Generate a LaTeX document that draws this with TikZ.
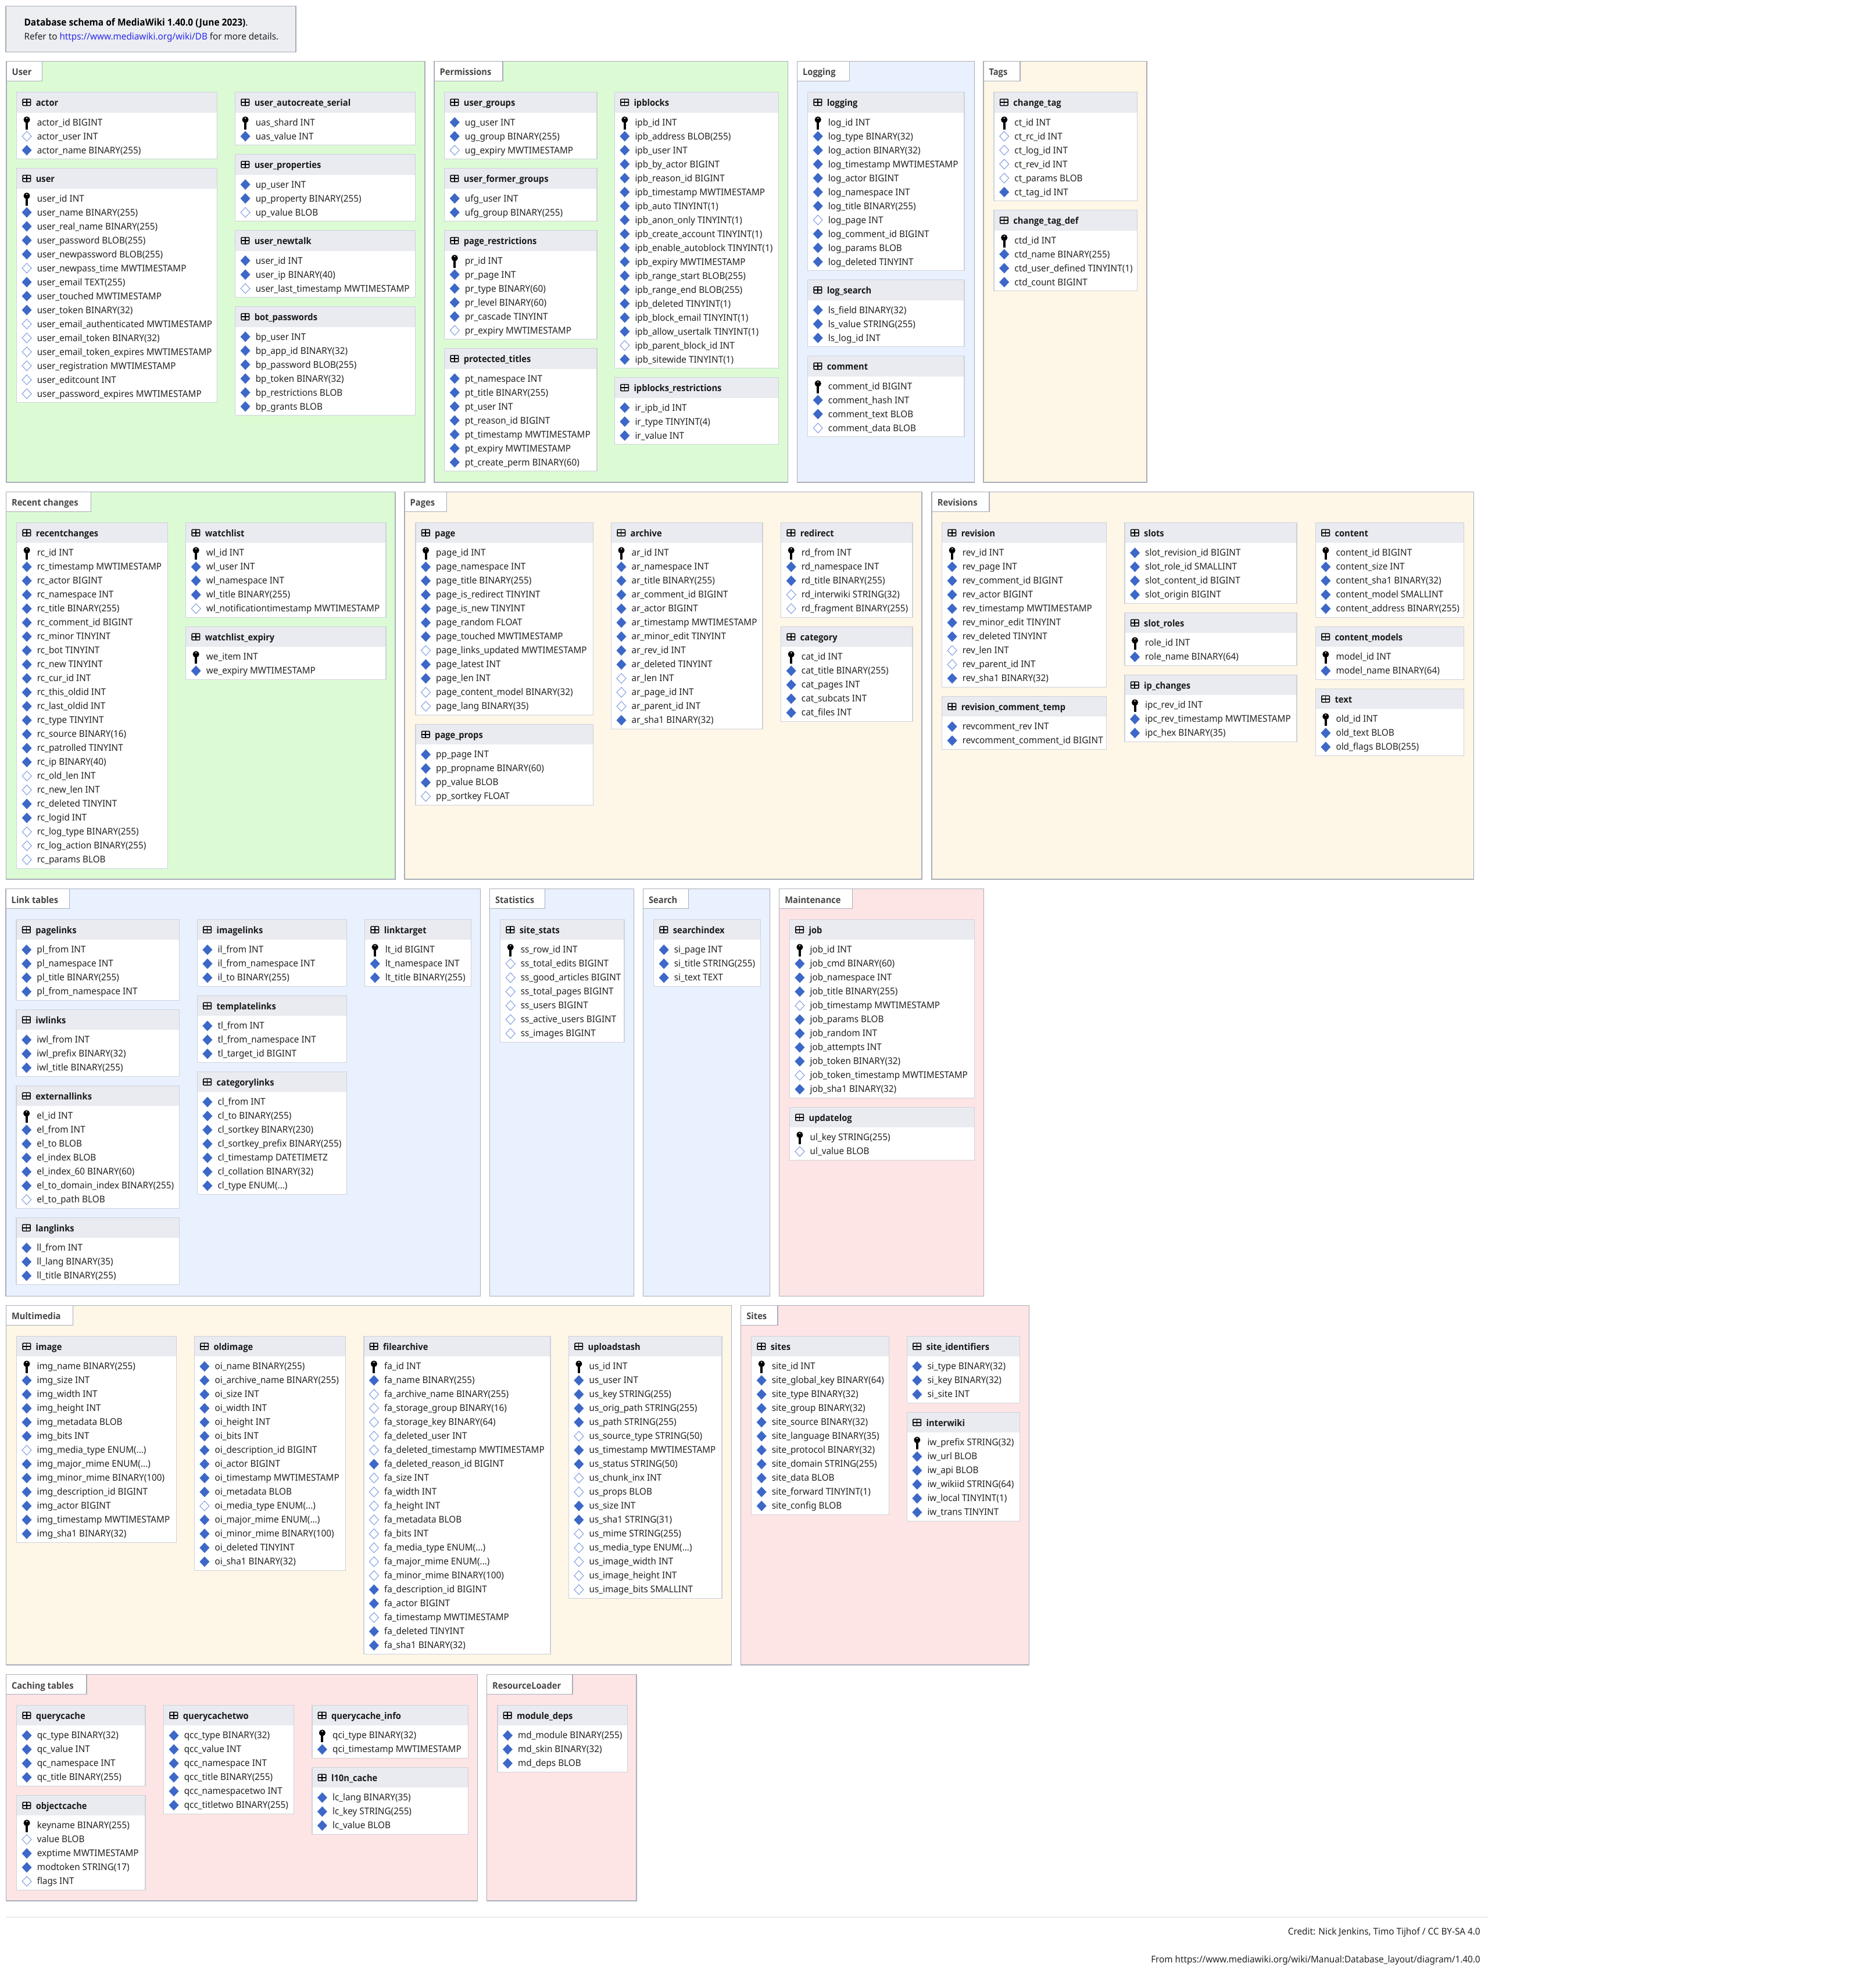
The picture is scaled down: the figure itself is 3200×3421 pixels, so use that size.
\documentclass[tikz,border=0pt]{standalone}
\usepackage{fontspec}
\setmainfont[FakeStretch=0.955]{Noto Sans}
\newfontfamily\headfont[FakeStretch=0.93]{Open Sans}

\definecolor{grpgreen}{HTML}{DCFBD5}
\definecolor{grpblue}{HTML}{EAF1FE}
\definecolor{grpcream}{HTML}{FEF6E7}
\definecolor{grppink}{HTML}{FEE5E5}
\definecolor{grpline}{HTML}{A9ADB9}
\definecolor{tblline}{HTML}{CDD1DA}
\definecolor{tblhead}{HTML}{E9EBF0}
\definecolor{keyblue}{HTML}{3D68C8}
\definecolor{keyline}{HTML}{7E9BE0}
\definecolor{rowtext}{HTML}{222222}
\definecolor{linkblue}{HTML}{2A2AE8}

\tikzset{
  grpbox/.style={draw=grpline, line width=1.5pt},
  grptab/.style={draw=grpline, fill=white, line width=1.5pt},
  grplabel/.style={anchor=base west, inner sep=0pt, text=black!72, font=\headfont\fontsize{15.8}{19}\selectfont\bfseries},
  tblbox/.style={draw=tblline, line width=1.5pt},
  tblname/.style={anchor=base west, inner sep=0pt, text=black!90, font=\headfont\fontsize{15.8}{19}\selectfont\bfseries},
  rowlabel/.style={anchor=base west, inner sep=0pt, text=rowtext, font=\fontsize{16}{20}\selectfont},
  creditlabel/.style={anchor=base east, inner sep=0pt, text=rowtext, font=\fontsize{16}{20}\selectfont}
}

% row markers: key, required column, nullable column
\newcommand{\markk}[2]{
  \fill[black] (#1,#2-4.5) circle (5.6);
  \fill[black] (#1-2,#2-2) rectangle (#1+2,#2+12);
  \fill[white] (#1,#2-7) circle (1.2);
}
\newcommand{\markf}[2]{
  \fill[keyblue] (#1-8.5,#2) -- (#1,#2-9) -- (#1+8.5,#2) -- (#1,#2+9) -- cycle;
}
\newcommand{\marke}[2]{
  \draw[keyline, fill=white, line width=1pt] (#1-8,#2) -- (#1,#2-8.5) -- (#1+8,#2) -- (#1,#2+8.5) -- cycle;
}

% a coloured group with its tab: fill, x1, y1, x2, y2, tab right, label
\newcommand{\dbgroup}[7]{
  \draw[grpbox, fill=#1] (#2,#3) rectangle (#4,#5);
  \draw[grptab] (#2,#3) rectangle (#6,#3+34);
  \node[grplabel] (tab-#7) at (#2+9.5,#3+24.5) {#7};
}

% next table of a column starts here
\newcommand{\tblcol}[1]{\gdef\tbltop{#1}}

% a table: x1, x2, name, rows as kind/text
\newcommand{\dbtable}[4]{
  \gdef\tblrows{0}
  \foreach \rowitem in {#4} {\pgfmathtruncatemacro\tmprows{\tblrows+1}\global\let\tblrows\tmprows}
  \pgfmathsetmacro\tblbot{\tbltop+67+24*(\tblrows-1)}
  \draw[tblbox, fill=white] (#1,\tbltop) rectangle (#2,\tblbot);
  \fill[tblhead] (#1,\tbltop) rectangle (#2,\tbltop+35);
  \draw[tblbox] (#1,\tbltop) rectangle (#2,\tblbot);
  % little grid icon of the header
  \draw[black, line width=1.5pt, rounded corners=1pt] (#1+10.5,\tbltop+12) rectangle (#1+24,\tbltop+23);
  \draw[black, line width=1.5pt] (#1+10.5,\tbltop+17.5) -- (#1+24,\tbltop+17.5) (#1+17.2,\tbltop+12) -- (#1+17.2,\tbltop+23);
  \node[tblname] (#3) at (#1+33,\tbltop+23.7) {#3};
  \foreach \kind/\col [count=\rowno from 0] in {#4} {
    \pgfmathsetmacro\rowy{\tbltop+52+24*\rowno}
    \csname mark\kind\endcsname{#1+17.5}{\rowy}
    \node[rowlabel] (#3-\rowno) at (#1+35,\rowy+5.5) {\col};
  }
  \pgfmathsetmacro\nexttop{\tblbot+16}
  \global\let\tbltop\nexttop
}
\newcommand{\enumtxt}{ENUM(...)}

\begin{document}
\catcode`\_=12
\begin{tikzpicture}[x=1pt,y=-1pt]
\useasboundingbox (0,0) rectangle (3200,3421);

% title
\draw[grpbox, fill=tblhead!85!white] (10,10.4) rectangle (509,89.4);
\node[rowlabel, font=\headfont\fontsize{16.7}{20}\selectfont, text=black] (title) at (41.3,44) {\bfseries Database schema of MediaWiki 1.40.0 (June 2023)\mdseries.};
\node[rowlabel] (titlelink) at (41.3,68) {Refer to \textcolor{linkblue}{https://www.mediawiki.org/wiki/DB} for more details.};

% groups
\dbgroup{grpgreen}{11}{105.3}{731}{830}{72.4}{User}
\dbgroup{grpgreen}{747}{105.3}{1355.4}{830}{865}{Permissions}
\dbgroup{grpblue}{1371.4}{105.3}{1676.7}{830}{1461.4}{Logging}
\dbgroup{grpcream}{1691.8}{105.3}{1973.2}{830}{1754.8}{Tags}
\dbgroup{grpgreen}{10.4}{846.3}{680}{1513.2}{156.3}{Recent changes}
\dbgroup{grpcream}{696}{846.3}{1585.8}{1513.2}{768.5}{Pages}
\dbgroup{grpcream}{1603.2}{846.3}{2535.3}{1513.2}{1702}{Revisions}
\dbgroup{grpblue}{10}{1529.6}{826.7}{2230.3}{119.3}{Link tables}
\dbgroup{grpblue}{842.3}{1529.6}{1090.3}{2230.3}{937.6}{Statistics}
\dbgroup{grpblue}{1106.4}{1529.6}{1324.5}{2230.3}{1184.4}{Search}
\dbgroup{grppink}{1340.6}{1529.6}{1692.5}{2230.3}{1466.3}{Maintenance}
\dbgroup{grpcream}{10.3}{2246.3}{1258.7}{2865.1}{125.4}{Multimedia}
\dbgroup{grppink}{1274.6}{2246.3}{1770.4}{2865.1}{1338.2}{Sites}
\dbgroup{grppink}{10.3}{2881.5}{821.4}{3271}{148.9}{Caching tables}
\dbgroup{grppink}{837.5}{2881.5}{1095}{3271}{985}{ResourceLoader}

% User
\tblcol{158.5}
\dbtable{28.6}{373.5}{actor}{k/actor_id BIGINT, e/actor_user INT, f/actor_name BINARY(255)}
\dbtable{28.6}{373.5}{user}{k/user_id INT, f/user_name BINARY(255), f/user_real_name BINARY(255), f/user_password BLOB(255),
  f/user_newpassword BLOB(255), e/user_newpass_time MWTIMESTAMP, f/user_email TEXT(255), f/user_touched MWTIMESTAMP,
  f/user_token BINARY(32), e/user_email_authenticated MWTIMESTAMP, e/user_email_token BINARY(32),
  e/user_email_token_expires MWTIMESTAMP, e/user_registration MWTIMESTAMP, e/user_editcount INT, e/user_password_expires MWTIMESTAMP}
\tblcol{158.5}
\dbtable{404.6}{714.3}{user_autocreate_serial}{k/uas_shard INT, f/uas_value INT}
\dbtable{404.6}{714.3}{user_properties}{f/up_user INT, f/up_property BINARY(255), e/up_value BLOB}
\dbtable{404.6}{714.3}{user_newtalk}{f/user_id INT, f/user_ip BINARY(40), e/user_last_timestamp MWTIMESTAMP}
\dbtable{404.6}{714.3}{bot_passwords}{f/bp_user INT, f/bp_app_id BINARY(32), f/bp_password BLOB(255), f/bp_token BINARY(32), f/bp_restrictions BLOB, f/bp_grants BLOB}

% Permissions
\tblcol{158.5}
\dbtable{764.7}{1027}{user_groups}{f/ug_user INT, f/ug_group BINARY(255), e/ug_expiry MWTIMESTAMP}
\dbtable{764.7}{1027}{user_former_groups}{f/ufg_user INT, f/ufg_group BINARY(255)}
\dbtable{764.7}{1027}{page_restrictions}{k/pr_id INT, f/pr_page INT, f/pr_type BINARY(60), f/pr_level BINARY(60), f/pr_cascade TINYINT, e/pr_expiry MWTIMESTAMP}
\dbtable{764.7}{1027}{protected_titles}{f/pt_namespace INT, f/pt_title BINARY(255), f/pt_user INT, f/pt_reason_id BIGINT, f/pt_timestamp MWTIMESTAMP, f/pt_expiry MWTIMESTAMP, f/pt_create_perm BINARY(60)}
\tblcol{158.5}
\dbtable{1057.3}{1339.5}{ipblocks}{k/ipb_id INT, f/ipb_address BLOB(255), f/ipb_user INT, f/ipb_by_actor BIGINT, f/ipb_reason_id BIGINT,
  f/ipb_timestamp MWTIMESTAMP, f/ipb_auto TINYINT(1), f/ipb_anon_only TINYINT(1), f/ipb_create_account TINYINT(1),
  f/ipb_enable_autoblock TINYINT(1), f/ipb_expiry MWTIMESTAMP, f/ipb_range_start BLOB(255), f/ipb_range_end BLOB(255),
  f/ipb_deleted TINYINT(1), f/ipb_block_email TINYINT(1), f/ipb_allow_usertalk TINYINT(1), e/ipb_parent_block_id INT, f/ipb_sitewide TINYINT(1)}
\dbtable{1057.3}{1339.5}{ipblocks_restrictions}{f/ir_ipb_id INT, f/ir_type TINYINT(4), f/ir_value INT}

% Logging
\tblcol{158.5}
\dbtable{1389.7}{1659.2}{logging}{k/log_id INT, f/log_type BINARY(32), f/log_action BINARY(32), f/log_timestamp MWTIMESTAMP, f/log_actor BIGINT,
  f/log_namespace INT, f/log_title BINARY(255), e/log_page INT, f/log_comment_id BIGINT, f/log_params BLOB, f/log_deleted TINYINT}
\dbtable{1389.7}{1659.2}{log_search}{f/ls_field BINARY(32), f/ls_value STRING(255), f/ls_log_id INT}
\dbtable{1389.7}{1659.2}{comment}{k/comment_id BIGINT, f/comment_hash INT, f/comment_text BLOB, e/comment_data BLOB}

% Tags
\tblcol{158.5}
\dbtable{1710.2}{1956.5}{change_tag}{k/ct_id INT, e/ct_rc_id INT, e/ct_log_id INT, e/ct_rev_id INT, e/ct_params BLOB, f/ct_tag_id INT}
\dbtable{1710.2}{1956.5}{change_tag_def}{k/ctd_id INT, f/ctd_name BINARY(255), f/ctd_user_defined TINYINT(1), f/ctd_count BIGINT}

% Recent changes
\tblcol{899.4}
\dbtable{28.7}{288.6}{recentchanges}{k/rc_id INT, f/rc_timestamp MWTIMESTAMP, f/rc_actor BIGINT, f/rc_namespace INT, f/rc_title BINARY(255),
  f/rc_comment_id BIGINT, f/rc_minor TINYINT, f/rc_bot TINYINT, f/rc_new TINYINT, f/rc_cur_id INT, f/rc_this_oldid INT, f/rc_last_oldid INT,
  f/rc_type TINYINT, f/rc_source BINARY(16), f/rc_patrolled TINYINT, f/rc_ip BINARY(40), e/rc_old_len INT, e/rc_new_len INT,
  f/rc_deleted TINYINT, f/rc_logid INT, e/rc_log_type BINARY(255), e/rc_log_action BINARY(255), e/rc_params BLOB}
\tblcol{899.4}
\dbtable{319.7}{664}{watchlist}{k/wl_id INT, f/wl_user INT, f/wl_namespace INT, f/wl_title BINARY(255), e/wl_notificationtimestamp MWTIMESTAMP}
\dbtable{319.7}{664}{watchlist_expiry}{k/we_item INT, f/we_expiry MWTIMESTAMP}

% Pages
\tblcol{899.4}
\dbtable{715}{1020.4}{page}{k/page_id INT, f/page_namespace INT, f/page_title BINARY(255), f/page_is_redirect TINYINT, f/page_is_new TINYINT,
  f/page_random FLOAT, f/page_touched MWTIMESTAMP, e/page_links_updated MWTIMESTAMP, f/page_latest INT, f/page_len INT,
  e/page_content_model BINARY(32), e/page_lang BINARY(35)}
\dbtable{715}{1020.4}{page_props}{f/pp_page INT, f/pp_propname BINARY(60), f/pp_value BLOB, e/pp_sortkey FLOAT}
\tblcol{899.4}
\dbtable{1051.5}{1312.2}{archive}{k/ar_id INT, f/ar_namespace INT, f/ar_title BINARY(255), f/ar_comment_id BIGINT, f/ar_actor BIGINT,
  f/ar_timestamp MWTIMESTAMP, f/ar_minor_edit TINYINT, f/ar_rev_id INT, f/ar_deleted TINYINT, e/ar_len INT, e/ar_page_id INT, e/ar_parent_id INT, f/ar_sha1 BINARY(32)}
\tblcol{899.4}
\dbtable{1343.7}{1570}{redirect}{k/rd_from INT, f/rd_namespace INT, f/rd_title BINARY(255), e/rd_interwiki STRING(32), e/rd_fragment BINARY(255)}
\dbtable{1343.7}{1570}{category}{k/cat_id INT, f/cat_title BINARY(255), f/cat_pages INT, f/cat_subcats INT, f/cat_files INT}

% Revisions
\tblcol{899.4}
\dbtable{1620.6}{1903.4}{revision}{k/rev_id INT, f/rev_page INT, f/rev_comment_id BIGINT, f/rev_actor BIGINT, f/rev_timestamp MWTIMESTAMP,
  f/rev_minor_edit TINYINT, f/rev_deleted TINYINT, e/rev_len INT, e/rev_parent_id INT, f/rev_sha1 BINARY(32)}
\dbtable{1620.6}{1903.4}{revision_comment_temp}{f/revcomment_rev INT, f/revcomment_comment_id BIGINT}
\tblcol{899.4}
\dbtable{1935}{2231}{slots}{f/slot_revision_id BIGINT, f/slot_role_id SMALLINT, f/slot_content_id BIGINT, f/slot_origin BIGINT}
\dbtable{1935}{2231}{slot_roles}{k/role_id INT, f/role_name BINARY(64)}
\dbtable{1935}{2231}{ip_changes}{k/ipc_rev_id INT, f/ipc_rev_timestamp MWTIMESTAMP, f/ipc_hex BINARY(35)}
\tblcol{899.4}
\dbtable{2263.3}{2518.7}{content}{k/content_id BIGINT, f/content_size INT, f/content_sha1 BINARY(32), f/content_model SMALLINT, f/content_address BINARY(255)}
\dbtable{2263.3}{2518.7}{content_models}{k/model_id INT, f/model_name BINARY(64)}
\dbtable{2263.3}{2518.7}{text}{k/old_id INT, f/old_text BLOB, f/old_flags BLOB(255)}

% Link tables
\tblcol{1582.4}
\dbtable{28.2}{308.5}{pagelinks}{f/pl_from INT, f/pl_namespace INT, f/pl_title BINARY(255), f/pl_from_namespace INT}
\dbtable{28.2}{308.5}{iwlinks}{f/iwl_from INT, f/iwl_prefix BINARY(32), f/iwl_title BINARY(255)}
\dbtable{28.2}{308.5}{externallinks}{k/el_id INT, f/el_from INT, f/el_to BLOB, f/el_index BLOB, f/el_index_60 BINARY(60), f/el_to_domain_index BINARY(255), e/el_to_path BLOB}
\dbtable{28.2}{308.5}{langlinks}{f/ll_from INT, f/ll_lang BINARY(35), f/ll_title BINARY(255)}
\tblcol{1582.4}
\dbtable{339.4}{596.3}{imagelinks}{f/il_from INT, f/il_from_namespace INT, f/il_to BINARY(255)}
\dbtable{339.4}{596.3}{templatelinks}{f/tl_from INT, f/tl_from_namespace INT, f/tl_target_id BIGINT}
\dbtable{339.4}{596.3}{categorylinks}{f/cl_from INT, f/cl_to BINARY(255), f/cl_sortkey BINARY(230), f/cl_sortkey_prefix BINARY(255), f/cl_timestamp DATETIMETZ, f/cl_collation BINARY(32), f/cl_type \enumtxt}
\tblcol{1582.4}
\dbtable{627.7}{810.4}{linktarget}{k/lt_id BIGINT, f/lt_namespace INT, f/lt_title BINARY(255)}

% Statistics, Search, Maintenance
\tblcol{1582.4}
\dbtable{860.7}{1074.2}{site_stats}{k/ss_row_id INT, e/ss_total_edits BIGINT, e/ss_good_articles BIGINT, e/ss_total_pages BIGINT, e/ss_users BIGINT, e/ss_active_users BIGINT, e/ss_images BIGINT}
\tblcol{1582.4}
\dbtable{1124.7}{1308.4}{searchindex}{f/si_page INT, f/si_title STRING(255), f/si_text TEXT}
\tblcol{1582.4}
\dbtable{1358.4}{1676.4}{job}{k/job_id INT, f/job_cmd BINARY(60), f/job_namespace INT, f/job_title BINARY(255), e/job_timestamp MWTIMESTAMP, f/job_params BLOB,
  f/job_random INT, f/job_attempts INT, f/job_token BINARY(32), e/job_token_timestamp MWTIMESTAMP, f/job_sha1 BINARY(32)}
\dbtable{1358.4}{1676.4}{updatelog}{k/ul_key STRING(255), e/ul_value BLOB}

% Multimedia
\tblcol{2299.4}
\dbtable{28.5}{303.5}{image}{k/img_name BINARY(255), f/img_size INT, f/img_width INT, f/img_height INT, f/img_metadata BLOB, f/img_bits INT,
  e/img_media_type \enumtxt, f/img_major_mime \enumtxt, f/img_minor_mime BINARY(100), f/img_description_id BIGINT, f/img_actor BIGINT, f/img_timestamp MWTIMESTAMP, f/img_sha1 BINARY(32)}
\tblcol{2299.4}
\dbtable{334.4}{594.4}{oldimage}{f/oi_name BINARY(255), f/oi_archive_name BINARY(255), f/oi_size INT, f/oi_width INT, f/oi_height INT, f/oi_bits INT,
  f/oi_description_id BIGINT, f/oi_actor BIGINT, f/oi_timestamp MWTIMESTAMP, f/oi_metadata BLOB, e/oi_media_type \enumtxt, f/oi_major_mime \enumtxt,
  f/oi_minor_mime BINARY(100), f/oi_deleted TINYINT, f/oi_sha1 BINARY(32)}
\tblcol{2299.4}
\dbtable{625.9}{947.1}{filearchive}{k/fa_id INT, f/fa_name BINARY(255), e/fa_archive_name BINARY(255), e/fa_storage_group BINARY(16), e/fa_storage_key BINARY(64),
  e/fa_deleted_user INT, e/fa_deleted_timestamp MWTIMESTAMP, f/fa_deleted_reason_id BIGINT, e/fa_size INT, e/fa_width INT, e/fa_height INT, e/fa_metadata BLOB,
  e/fa_bits INT, e/fa_media_type \enumtxt, e/fa_major_mime \enumtxt, e/fa_minor_mime BINARY(100), f/fa_description_id BIGINT, f/fa_actor BIGINT,
  e/fa_timestamp MWTIMESTAMP, f/fa_deleted TINYINT, f/fa_sha1 BINARY(32)}
\tblcol{2299.4}
\dbtable{978.4}{1242.2}{uploadstash}{k/us_id INT, f/us_user INT, f/us_key STRING(255), f/us_orig_path STRING(255), f/us_path STRING(255), e/us_source_type STRING(50),
  f/us_timestamp MWTIMESTAMP, f/us_status STRING(50), e/us_chunk_inx INT, e/us_props BLOB, f/us_size INT, f/us_sha1 STRING(31), e/us_mime STRING(255),
  e/us_media_type \enumtxt, e/us_image_width INT, e/us_image_height INT, e/us_image_bits SMALLINT}

% Sites
\tblcol{2299.4}
\dbtable{1292.7}{1529.6}{sites}{k/site_id INT, f/site_global_key BINARY(64), f/site_type BINARY(32), f/site_group BINARY(32), f/site_source BINARY(32),
  f/site_language BINARY(35), f/site_protocol BINARY(32), f/site_domain STRING(255), f/site_data BLOB, f/site_forward TINYINT(1), f/site_config BLOB}
\tblcol{2299.4}
\dbtable{1560.3}{1754.5}{site_identifiers}{f/si_type BINARY(32), f/si_key BINARY(32), f/si_site INT}
\dbtable{1560.3}{1754.5}{interwiki}{k/iw_prefix STRING(32), f/iw_url BLOB, f/iw_api BLOB, f/iw_wikiid STRING(64), f/iw_local TINYINT(1), f/iw_trans TINYINT}

% Caching tables
\tblcol{2934.4}
\dbtable{28.6}{250}{querycache}{f/qc_type BINARY(32), f/qc_value INT, f/qc_namespace INT, f/qc_title BINARY(255)}
\dbtable{28.6}{250}{objectcache}{k/keyname BINARY(255), e/value BLOB, f/exptime MWTIMESTAMP, f/modtoken STRING(17), e/flags INT}
\tblcol{2934.4}
\dbtable{281.6}{505.3}{querycachetwo}{f/qcc_type BINARY(32), f/qcc_value INT, f/qcc_namespace INT, f/qcc_title BINARY(255), f/qcc_namespacetwo INT, f/qcc_titletwo BINARY(255)}
\tblcol{2934.4}
\dbtable{536.9}{805.3}{querycache_info}{k/qci_type BINARY(32), f/qci_timestamp MWTIMESTAMP}
\dbtable{536.9}{805.3}{l10n_cache}{f/lc_lang BINARY(35), f/lc_key STRING(255), f/lc_value BLOB}

% ResourceLoader
\tblcol{2934.4}
\dbtable{855.9}{1079.6}{module_deps}{f/md_module BINARY(255), f/md_skin BINARY(32), f/md_deps BLOB}

% footer
\coordinate (ruleL) at (10,3298.6);
\coordinate (ruleR) at (2559.4,3298.6);
\draw[tblhead, line width=2pt] (ruleL) -- (ruleR);
\node[creditlabel] (credit) at (2546.9,3329.5) {Credit: Nick Jenkins, Timo Tijhof / CC BY-SA 4.0};
\node[creditlabel] (source) at (2546.9,3377) {From https://www.mediawiki.org/wiki/Manual:Database_layout/diagram/1.40.0};

\end{tikzpicture}
\end{document}
